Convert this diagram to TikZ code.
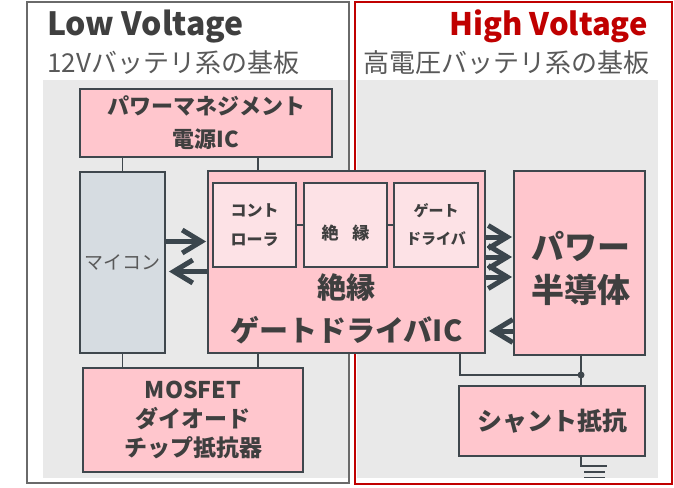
\documentclass[tikz,border=0pt]{standalone}
\usepackage{fontspec}
\setmainfont{Noto Sans CJK JP}
\usetikzlibrary{arrows.meta,calc}
\definecolor{pinkfill}{HTML}{FFC6CD}
\definecolor{pinklight}{HTML}{FDE2E6}
\definecolor{mcufill}{HTML}{D6DCE1}
\definecolor{bggray}{HTML}{E9E9E9}
\definecolor{edge}{HTML}{3F474D}
\definecolor{txt}{HTML}{3F3F3F}
\definecolor{subtxt}{HTML}{595959}
\definecolor{hvred}{HTML}{C00000}
\definecolor{lvgray}{HTML}{6A6A6A}
\definecolor{arrowc}{HTML}{3B464D}
\tikzset{
  blk/.style={draw=edge, line width=1.9pt, inner sep=0pt, text=txt, align=center},
  pinkblk/.style={blk, fill=pinkfill},
  innerblk/.style={blk, fill=pinklight},
  wire/.style={draw=edge, line width=1.6pt},
  fatarrow/.style={draw=arrowc, line width=5pt, -{Straight Barb[length=19pt,width=23pt,line width=5pt]}},
  lbl/.style={inner sep=0pt, text=txt, align=center}
}
\begin{document}
\begin{tikzpicture}[x=1pt,y=-1pt]
\useasboundingbox (0,0) rectangle (674,487);
\fill[white] (0,0) rectangle (674,487);
% backgrounds
\fill[bggray] (43,80) rectangle (349,478);
\fill[bggray] (357,80) rectangle (658,478);
\draw[lvgray, line width=2.4pt] (27,2) rectangle (349,483);
\draw[hvred, line width=1.5pt] (355,2) rectangle (672,484);
% titles
\node[anchor=base west, inner sep=0pt, text=txt, font=\bfseries\fontsize{32}{32}\selectfont] (lvt) at (47,36) {Low Voltage};
\node[anchor=base west, inner sep=0pt, text=subtxt, font=\fontsize{26}{26}\selectfont] (lvs) at (47,72) {12Vバッテリ系の基板};
\node[anchor=base east, inner sep=0pt, text=hvred, font=\bfseries\fontsize{31}{31}\selectfont] (hvt) at (648,36) {High Voltage};
\node[anchor=base east, inner sep=0pt, text=subtxt, font=\fontsize{26}{26}\selectfont] (hvs) at (650,72) {高電圧バッテリ系の基板};
% blocks
\node[pinkblk, minimum width=252pt, minimum height=68pt, font=\bfseries\fontsize{22}{33}\selectfont] (pwr) at (206,123) {パワーマネジメント\\電源IC};
\node[blk, fill=mcufill, minimum width=85pt, minimum height=181pt, text=subtxt, font=\fontsize{19}{19}\selectfont] (mcu) at (122.5,262.5) {マイコン};
\node[pinkblk, minimum width=277pt, minimum height=182pt] (ic) at (346.5,262) {};
\node[lbl, font=\bfseries\fontsize{29}{43}\selectfont] (ictext) at (346.5,309) {絶縁\\ゲートドライバIC};
\node[innerblk, minimum width=83pt, minimum height=84pt, font=\bfseries\fontsize{16}{29}\selectfont] (ctrl) at (254.5,225) {コント\\ローラ};
\node[innerblk, minimum width=83pt, minimum height=84pt] (iso) at (345.5,225) {};
\node[lbl, font=\bfseries\fontsize{17}{17}\selectfont] (isotext) at (345.5,233) {絶\hspace{0.8em}縁};
\node[innerblk, minimum width=84pt, minimum height=84pt, font=\bfseries\fontsize{15}{28}\selectfont] (gd) at (436,225) {ゲート\\ドライバ};
\node[pinkblk, minimum width=131pt, minimum height=184pt] (psemi) at (579.5,263) {};
\node[lbl, font=\bfseries\fontsize{33}{43}\selectfont] (psemitext) at (581,268) {パワー\\半導体};
\node[pinkblk, minimum width=186pt, minimum height=70pt, font=\bfseries\fontsize{25}{25}\selectfont] (shunt) at (552,421) {シャント抵抗};
\node[pinkblk, minimum width=220pt, minimum height=104pt, font=\bfseries\fontsize{23}{29}\selectfont] (mos) at (193,420) {MOSFET\\ダイオード\\チップ抵抗器};
% wires
\draw[wire] (mcu.north) -- (mcu.north |- pwr.south);
\draw[wire] ([xshift=-88.5pt]ic.north) -- ([xshift=-88.5pt]ic.north |- pwr.south);
\draw[wire] (mcu.south) -- (mcu.south |- mos.north);
\draw[wire] ([xshift=-88.5pt]ic.south) -- ([xshift=-88.5pt]ic.south |- mos.north);
\draw[wire] (ctrl.east) -- (iso.west);
\draw[wire] (iso.east) -- (gd.west);
\coordinate (jn) at ($(psemi.south)+(1.5,19)$);
\draw[wire] ([xshift=113.5pt]ic.south) |- (jn);
\draw[wire] (psemi.south -| jn) -- (shunt.north -| jn);
\fill[edge] (jn) circle (3.5pt);
\coordinate (gnd) at ($(shunt.south -| jn)+(0,9)$);
\draw[wire] (shunt.south -| jn) -- (gnd) -- ++(26,0);
\draw[wire] ($(gnd)+(3,6)$) -- ++(21,0);
\draw[wire] ($(gnd)+(3,11.5)$) -- ++(21,0);
% arrows
\draw[fatarrow] ([yshift=21pt]mcu.east) -- ([xshift=-1pt,yshift=21pt]mcu.east -| ic.west);
\draw[fatarrow] ([yshift=-9.5pt]ic.west) -- ([xshift=3pt,yshift=-9.5pt]ic.west -| mcu.east);
\draw[fatarrow] ([yshift=25pt]ic.east) -- ([xshift=-1pt,yshift=25pt]ic.east -| psemi.west);
\draw[fatarrow] ([yshift=5pt]ic.east) -- ([xshift=-1pt,yshift=5pt]ic.east -| psemi.west);
\draw[fatarrow] ([yshift=-15pt]ic.east) -- ([xshift=-1pt,yshift=-15pt]ic.east -| psemi.west);
\draw[fatarrow] ([yshift=-68pt]psemi.west) -- ([xshift=3pt,yshift=-68pt]psemi.west -| ic.east);
\end{tikzpicture}
\end{document}
